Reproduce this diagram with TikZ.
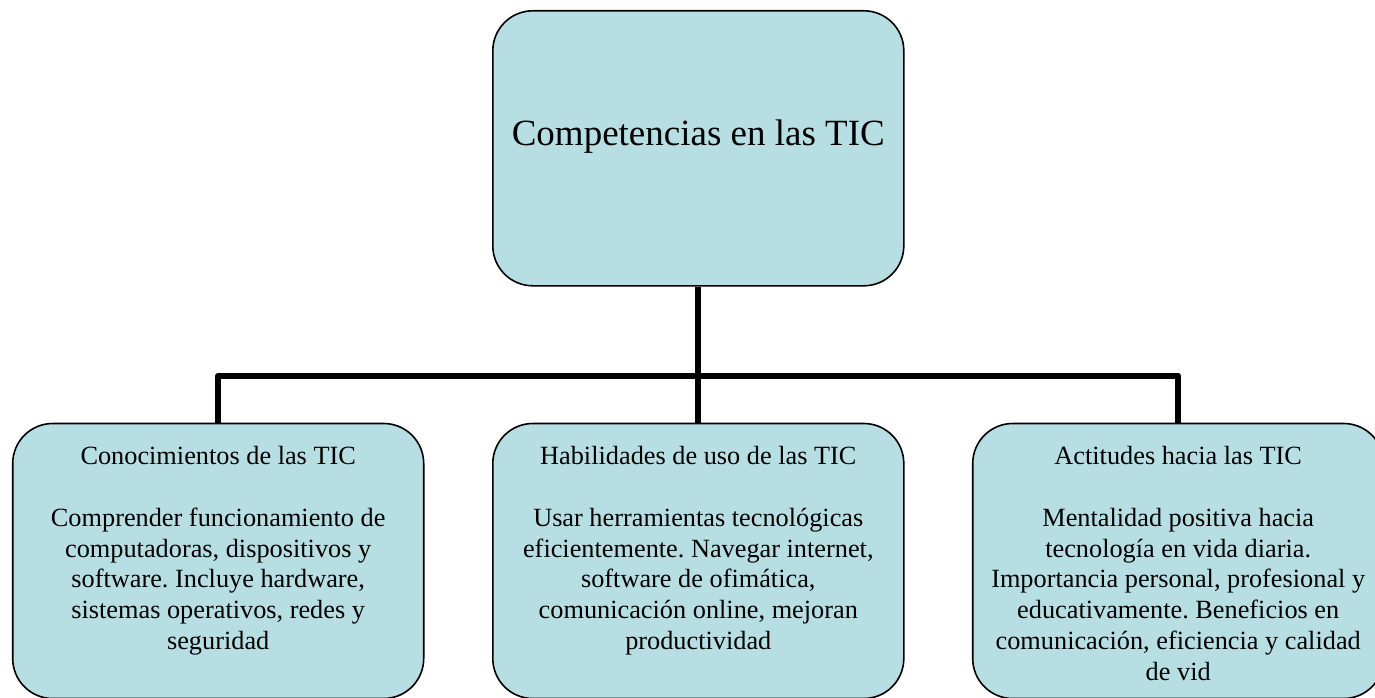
\documentclass[tikz,border=0pt]{standalone}
\usepackage{fontspec}
\setmainfont{Liberation Serif}
\frenchspacing
\definecolor{boxfill}{RGB}{183,222,226}
\newcommand\boxtext[1]{\parbox[c][275pt][t]{411pt}{\centering\fontsize{26.3}{30.8}\selectfont\vspace*{23pt}#1}}
\begin{document}
\begin{tikzpicture}[x=1pt,y=-1pt,
  tbox/.style={draw=black, line width=1.6pt, fill=boxfill, rounded corners=40pt,
    inner sep=0pt, minimum width=411pt, minimum height=275pt},
  conn/.style={draw=black, line width=6pt, line join=round}]
\clip (0,0) rectangle (1375,698);
\node[tbox, font=\fontsize{37}{44}\selectfont, text height=30pt, text depth=35.2pt]
  (top) at (698.3,148.3) {Competencias en las TIC};
\node[tbox] (c1) at (218.2,561) {\boxtext{Conocimientos de las TIC\\[30.8pt]
  Comprender funcionamiento de\\ computadoras, dispositivos y\\ software. Incluye hardware,\\
  sistemas operativos, redes y\\ seguridad}};
\node[tbox] (c2) at (698.3,561) {\boxtext{Habilidades de uso de las TIC\\[30.8pt]
  Usar herramientas tecnológicas\\ eficientemente. Navegar internet,\\ software de ofimática,\\
  comunicación online, mejoran\\ productividad}};
\node[tbox] (c3) at (1178.2,561) {\boxtext{Actitudes hacia las TIC\\[30.8pt]
  Mentalidad positiva hacia\\ tecnología en vida diaria.\\ Importancia personal, profesional y\\
  educativamente. Beneficios en\\ comunicación, eficiencia y calidad\\ de vid}};
\coordinate (hub) at (698.3,375.5);
\draw[conn] (top.south) -- (c2.north);
\draw[conn] (c1.north) |- (hub) -| (c3.north);
\end{tikzpicture}
\end{document}
